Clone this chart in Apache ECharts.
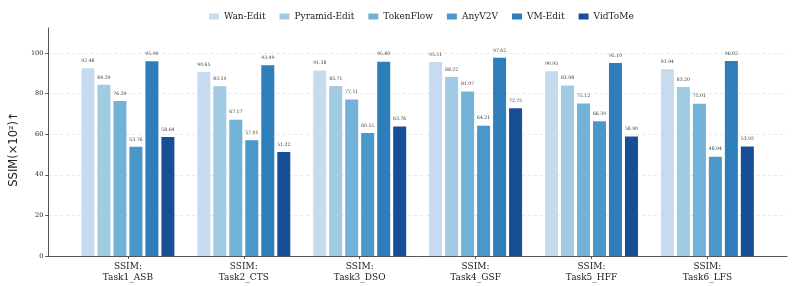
<!DOCTYPE html>
<html>
<head>
<meta charset="utf-8">
<script src="https://cdn.jsdelivr.net/npm/echarts@6/dist/echarts.min.js"></script>
<style>html,body{margin:0;padding:0;background:#fff}#c{width:793px;height:286px}</style>
</head>
<body>
<div id="c"></div>
<script>
const categories = ['SSIM:\nTask1_ASB','SSIM:\nTask2_CTS','SSIM:\nTask3_DSO','SSIM:\nTask4_GSF','SSIM:\nTask5_HFF','SSIM:\nTask6_LFS'];
const methods = ['Wan-Edit','Pyramid-Edit','TokenFlow','AnyV2V','VM-Edit','VidToMe'];
const wanEdit     = [92.48, 90.65, 91.38, 95.51, 90.95, 91.94];
const pyramidEdit = [84.29, 83.59, 83.71, 88.22, 83.98, 83.20];
const tokenFlow   = [76.29, 67.17, 77.11, 81.07, 75.12, 75.01];
const anyV2V      = [53.76, 57.01, 60.55, 64.21, 66.39, 48.94];
const vmEdit      = [95.90, 93.99, 95.69, 97.62, 95.10, 96.02];
const vidToMe     = [58.64, 51.22, 63.76, 72.75, 58.90, 53.92];
const yTicks = [0, 20, 40, 60, 80, 100];
const colors = ['#c6dbef','#a1cbe2','#73b2d8','#4a98c9','#2e7ebc','#174f97'];

const seriesValues = [wanEdit, pyramidEdit, tokenFlow, anyV2V, vmEdit, vidToMe];
const serif = 'DejaVu Serif';
const chart = echarts.init(document.getElementById('c'));
chart.setOption({
  animation: false,
  color: colors,
  legend: {
    top: 7, left: 204,
    itemWidth: 10, itemHeight: 6, itemGap: 14,
    icon: 'rect',
    textStyle: { fontFamily: serif, fontSize: 9, color: '#222' },
    data: methods
  },
  grid: { left: 42, right: 6, top: 28, bottom: 30, containLabel: false },
  xAxis: {
    type: 'value',
    min: -0.687, max: 5.687,
    axisLine: { show: true, onZero: false, lineStyle: { color: '#555', width: 1 } },
    axisTick: { show: true, length: 3, customValues: [0,1,2,3,4,5], lineStyle: { color: '#555' } },
    axisLabel: {
      customValues: [0,1,2,3,4,5],
      formatter: v => categories[Math.round(v)],
      fontFamily: serif, fontSize: 9, color: '#222', lineHeight: 11, margin: 5
    },
    splitLine: { show: false }
  },
  yAxis: {
    type: 'value', min: 0, max: 112.3,
    name: 'SSIM(×10²)↑', nameLocation: 'middle', nameGap: 26,
    nameTextStyle: { fontFamily: 'DejaVu Sans', fontSize: 11.5, color: '#222', padding: [0, 0, 0, -14] },
    axisLine: { show: true, onZero: false, lineStyle: { color: '#555', width: 1 } },
    axisTick: { show: true, length: 3, customValues: yTicks, lineStyle: { color: '#555' } },
    axisLabel: { customValues: yTicks, fontFamily: serif, fontSize: 6.5, color: '#222', margin: 5 },
    splitLine: { show: true, lineStyle: { color: '#dddddd', type: [3, 3], width: 0.7 } }
  },
  series: methods.map((m, i) => ({
    name: m,
    type: 'bar',
    barWidth: 13,
    barGap: '23%',
    data: seriesValues[i].map((v, j) => [j, v]),
    itemStyle: { color: colors[i] },
    label: {
      show: true, position: 'top', distance: 5,
      formatter: p => p.value[1].toFixed(2),
      fontFamily: serif, fontSize: 4.6, color: '#333'
    }
  }))
});
</script>
</body>
</html>
